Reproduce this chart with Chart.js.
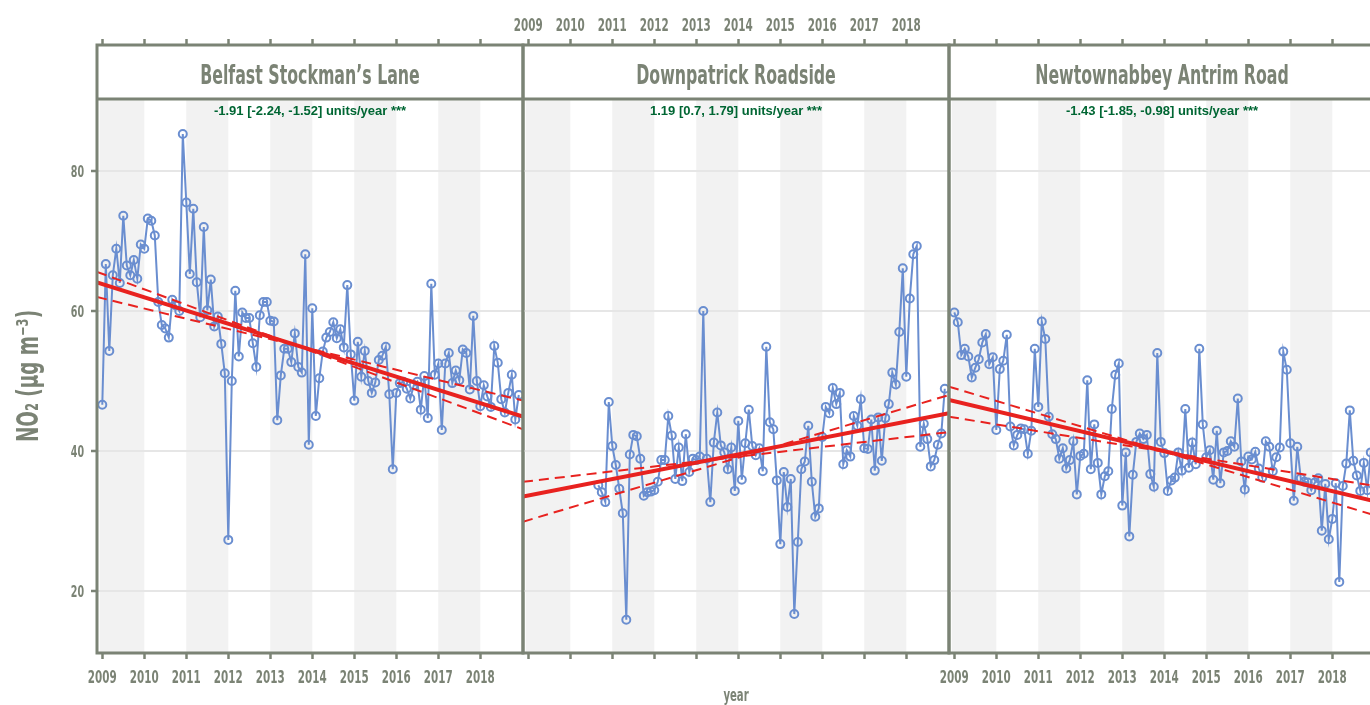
<!DOCTYPE html>
<html>
<head>
<meta charset="utf-8">
<script src="https://cdn.jsdelivr.net/npm/chart.js@4.4.1/dist/chart.umd.min.js"></script>
<style>
html,body{margin:0;padding:0;background:#fff;}
#wrap{position:relative;width:1370px;height:705px;overflow:hidden;}
#wrap canvas{position:absolute;left:0;top:0;}
</style>
</head>
<body>
<div id="wrap">
  <canvas id="p0" width="1370" height="705"></canvas>
  <canvas id="p1" width="1370" height="705"></canvas>
  <canvas id="p2" width="1385" height="705"></canvas>
</div>
<script>
// ── Data ──────────────────────────────────────────────────────────────────────

const sites=['Belfast Stockman’s Lane','Downpatrick Roadside','Newtownabbey Antrim Road'];
const trendLabels=['-1.91 [-2.24, -1.52] units/year ***','1.19 [0.7, 1.79] units/year ***','-1.43 [-1.85, -0.98] units/year ***'];
const yTitle='NO₂ (μg m⁻³)', xTitle='year';
const firstYear=2009;
const yearTicks=[2009,2010,2011,2012,2013,2014,2015,2016,2017,2018];
const yTicks=[20,40,60,80];
const shadeBands=[[2008.94,2010],[2011,2012],[2013,2014],[2015,2016],[2017,2018]];

// monthly means from Jan 2009
const belfast=[46.6,66.7,54.3,65.1,68.9,64.0,73.6,66.5,65.1,67.3,64.6,69.5,
  68.9,73.2,72.9,70.8,61.3,58.0,57.5,56.2,61.6,60.8,60.0,85.3,
  75.5,65.3,74.6,64.1,59.1,72.0,60.1,64.5,57.8,59.2,55.3,51.1,
  27.3,50.0,62.9,53.5,59.8,59.0,59.0,55.4,52.0,59.4,61.3,61.3,
  58.6,58.5,44.4,50.8,54.6,54.6,52.7,56.8,52.0,51.2,68.1,40.9,
  60.4,45.0,50.4,54.2,56.2,57.0,58.4,56.1,57.4,54.8,63.7,53.8,
  47.2,55.6,50.6,54.3,50.0,48.3,49.8,53.0,53.6,54.9,48.1,37.4,
  48.3,49.7,49.9,48.9,47.5,49.4,49.9,45.9,50.7,44.7,63.9,50.9,
  52.5,43.0,52.5,54.0,49.7,51.5,50.1,54.5,54.0,48.8,59.3,50.0,
  46.4,49.4,47.8,46.3,55.0,52.6,47.4,45.5,48.3,50.9,44.5,48.0];
const downpatrick=[null,null,null,null,null,null,null,null,null,null,null,null,
  null,null,null,null,null,null,null,null,35.1,34.1,32.7,47.0,
  40.7,38.0,34.6,31.1,15.9,39.5,42.3,42.1,38.9,33.6,34.1,34.2,
  34.4,35.6,38.7,38.7,45.0,42.2,36.0,40.5,35.7,42.4,37.0,38.9,
  38.7,39.2,60.0,38.9,32.7,41.2,45.5,40.8,39.8,37.4,40.5,34.3,
  44.3,35.9,41.1,45.9,40.7,39.4,40.4,37.1,54.9,44.1,43.1,35.8,
  26.7,37.0,32.0,36.0,16.7,27.0,37.4,38.5,43.6,35.6,30.6,31.8,
  42.0,46.3,45.4,49.0,46.7,48.3,38.1,40.1,39.2,45.0,43.6,47.4,
  40.4,40.3,44.5,37.2,44.8,38.6,44.7,46.7,51.2,49.5,57.0,66.1,
  50.6,61.8,68.1,69.3,40.6,43.9,41.7,37.8,38.7,40.9,42.5,48.9];
const newtownabbey=[59.8,58.4,53.7,54.6,53.5,50.5,51.9,53.1,55.5,56.7,52.4,53.4,
  43.0,51.7,52.9,56.6,43.5,40.8,42.3,43.2,43.1,39.6,42.9,54.6,
  46.3,58.5,56.0,44.9,42.4,41.7,38.9,40.4,37.5,38.7,41.4,33.8,
  39.3,39.6,50.1,37.4,43.8,38.3,33.8,36.4,37.1,46.0,50.9,52.5,
  32.2,39.8,27.8,36.6,41.3,42.5,41.7,42.3,36.7,34.9,54.0,41.3,
  39.7,34.3,35.8,36.2,39.8,37.2,46.0,37.6,41.2,38.1,54.6,43.8,
  39.1,40.1,35.9,42.9,35.4,39.8,40.0,41.4,40.6,47.5,38.5,34.5,
  39.2,38.8,39.9,37.5,36.2,41.4,40.6,37.1,39.1,40.5,54.2,51.6,
  41.1,32.9,40.6,36.1,35.6,35.5,34.4,35.5,36.1,28.6,35.3,27.4,
  30.3,35.4,21.3,35.0,38.2,45.8,38.6,36.5,34.3,38.3,34.4,39.8];
const series=[belfast,downpatrick,newtownabbey];

// Theil-Sen fits at panel left / right edge: median slope, and the two slope CI lines
const trendMid=[[64.1,44.9],[33.5,45.4],[47.3,32.8]];
const trendSteep=[[65.6,43.1],[29.9,48.0],[49.2,30.8]];
const trendShallow=[[62.0,47.2],[35.6,42.7],[44.9,35.0]];

// ── Look ──────────────────────────────────────────────────────────────────────

const INK='#7b8375', SHADE='#f2f2f2', GRID='#e6e6e6', BLUE='#6a8ed0', RED='#e8221f', GREEN='#006633';
const COND="'DejaVu Sans Condensed','Liberation Sans Narrow',sans-serif";
const X_MIN=2008.874, X_MAX=2019.017, Y_MIN=11.14, Y_MAX=90.29;
const PANEL_LEFT=[97,523,949], PANEL_W=426;

// narrow lettering like the original's condensed face
function condText(ctx,txt,x,y,size,sx,align,rot){
  ctx.save(); ctx.translate(x,y); if (rot) ctx.rotate(rot); ctx.scale(sx,1);
  ctx.font='bold '+size+'px '+COND; ctx.fillStyle=INK;
  ctx.textAlign=align||'center'; ctx.textBaseline='alphabetic';
  ctx.fillText(txt,0,0); ctx.restore();
}

const panelDeco={
  id:'panelDeco',
  beforeDraw(chart){
    const {ctx,chartArea:a,scales:{x}}=chart;
    ctx.save(); ctx.fillStyle=SHADE;
    shadeBands.forEach(([s,e])=>{
      const l=Math.max(a.left,x.getPixelForValue(s)), r=Math.min(a.right,x.getPixelForValue(e));
      if (r>l) ctx.fillRect(l,a.top,r-l,a.bottom-a.top);
    });
    ctx.restore();
  },
  afterDraw(chart,args,o){
    const {ctx,chartArea:a,scales:{x,xTop,y}}=chart, t=chart.titleBlock, cx=(a.left+a.right)/2;
    ctx.save();
    ctx.strokeStyle=INK; ctx.lineWidth=3;
    ctx.strokeRect(a.left,t.top,a.right-a.left,a.bottom-t.top);
    ctx.beginPath(); ctx.moveTo(a.left,a.top); ctx.lineTo(a.right,a.top); ctx.stroke();
    ctx.fillStyle=GREEN; ctx.font='bold 13px "Liberation Sans",Arial,sans-serif';
    ctx.textAlign='center'; ctx.textBaseline='middle';
    ctx.fillText(o.label,cx,a.top+12);
    ctx.restore();
    // strip title
    condText(ctx,o.site,cx,t.bottom-15,27,0.65);
    // tick labels
    if (o.bottom) x.ticks.forEach(tk=>condText(ctx,String(tk.value),x.getPixelForValue(tk.value),x.top+30,18,0.64));
    if (o.top) xTop.ticks.forEach(tk=>condText(ctx,String(tk.value),xTop.getPixelForValue(tk.value),xTop.bottom-14,18,0.64));
    if (o.left) {
      y.ticks.forEach(tk=>condText(ctx,String(tk.value),a.left-13,y.getPixelForValue(tk.value)+6,16,0.66,'right'));
      condText(ctx,yTitle,38,(a.top+a.bottom)/2,30,0.68,'center',-Math.PI/2);
    }
    if (o.xTitle) condText(ctx,xTitle,cx,701,17,0.66);
  }
};

// ── Panels ────────────────────────────────────────────────────────────────────

function trendSet(vals,w,dash){
  return {data:[{x:X_MIN,y:vals[0]},{x:X_MAX,y:vals[1]}],borderColor:RED,borderWidth:w,borderDash:dash,
    pointRadius:0,fill:false,order:1,borderCapStyle:'butt'};
}

function xAxis(pos,h,extra){
  return Object.assign({
    type:'linear',position:pos,min:X_MIN,max:X_MAX,
    afterBuildTicks:s=>{s.ticks=yearTicks.map(v=>({value:v}));},
    afterFit:s=>{s.height=h;},
    grid:{drawOnChartArea:false,drawTicks:true,tickLength:6,tickColor:INK,tickWidth:2.5},
    border:{display:false},
    ticks:{display:false}
  },extra||{});
}

function panelChart(k){
  const first=k===0, mid=k===1, cv=document.getElementById('p'+k);
  const pts=[];
  series[k].forEach((v,i)=>{ if (v!=null) pts.push({x:firstYear+i/12,y:v}); });
  return new Chart(cv,{
    type:'line',
    plugins:[panelDeco],
    data:{datasets:[
      {data:pts,borderColor:BLUE,borderWidth:2,pointRadius:4,pointBorderWidth:2,pointBorderColor:BLUE,
        pointBackgroundColor:'rgba(0,0,0,0)',fill:false,tension:0,order:2},
      trendSet(trendMid[k],4,[]),
      trendSet(trendSteep[k],2,[10,6]),
      trendSet(trendShallow[k],2,[10,6])
    ]},
    options:{
      responsive:false,animation:false,events:[],
      layout:{padding:{left:first?0:PANEL_LEFT[k],right:cv.width-PANEL_LEFT[k]-PANEL_W,top:0,bottom:0}},
      plugins:{
        legend:{display:false},tooltip:{enabled:false},
        // strip space; its lettering is drawn by panelDeco
        title:{display:true,text:'',fullSize:false,font:{size:24,lineHeight:1},padding:{top:15,bottom:15}},
        panelDeco:{label:trendLabels[k],site:sites[k],bottom:!mid,top:mid,left:first,xTitle:mid}
      },
      scales:{
        x:xAxis('bottom',52),
        xTop:xAxis('top',45,{weight:3000}),
        y:{type:'linear',min:Y_MIN,max:Y_MAX,
          afterBuildTicks:s=>{s.ticks=yTicks.map(v=>({value:v}));},
          afterFit:s=>{s.width=first?97:0;},
          grid:{color:GRID,lineWidth:2,drawTicks:first,tickLength:6,tickColor:INK,tickWidth:2.5},
          border:{display:false},
          ticks:{display:false}}
      }
    }
  });
}

[0,1,2].forEach(panelChart);
</script>
</body>
</html>
